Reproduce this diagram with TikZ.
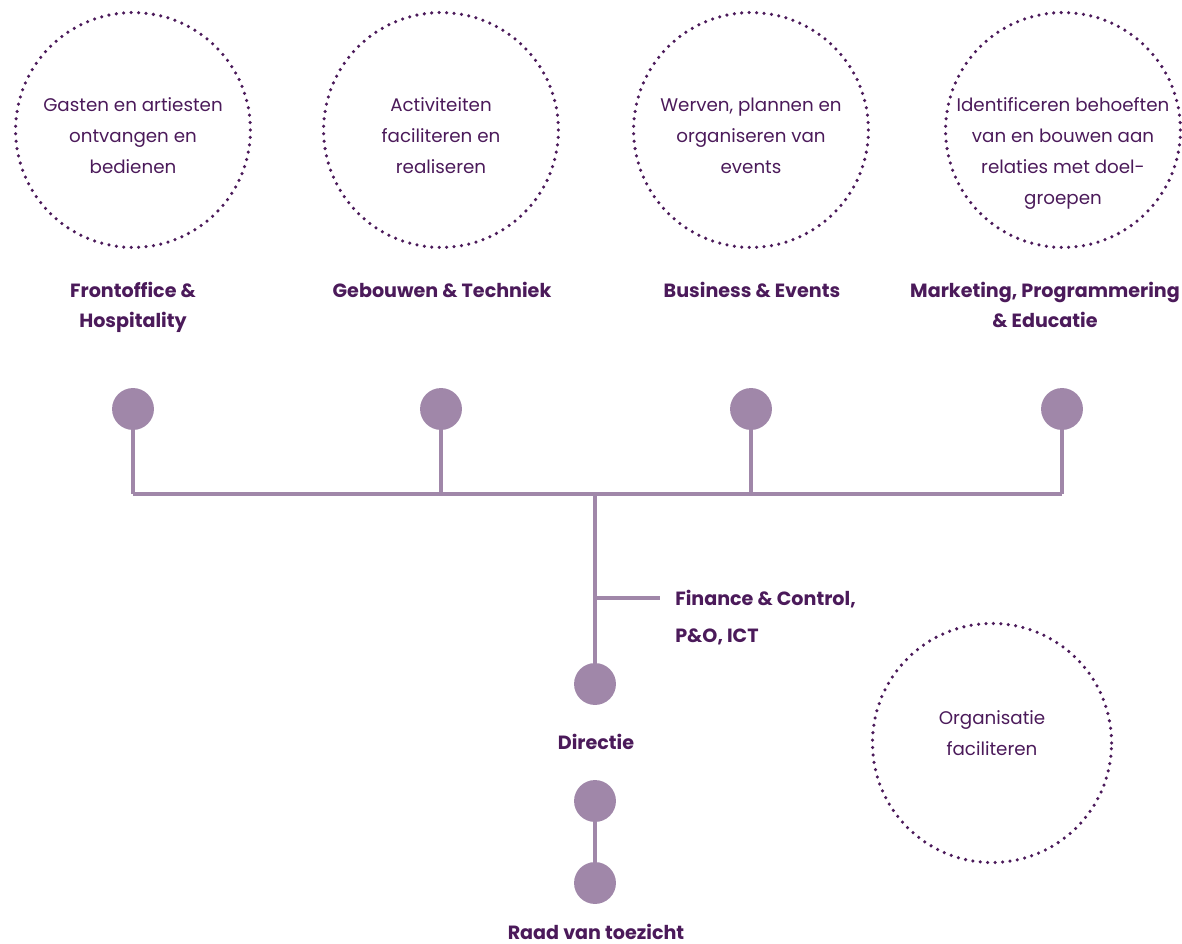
\documentclass[tikz,border=0pt]{standalone}
\usepackage{fontspec}
\setmainfont{Poppins}
\definecolor{plum}{HTML}{4B1A5A}
\definecolor{lilac}{HTML}{A087A9}
\tikzset{
  task/.style = {circle, minimum size = 167pt, draw = plum, line width = 2.5pt,
    dash pattern = on 0pt off 5.3pt, line cap = round},
  tasktext/.style = {anchor = north, align = center, text = plum,
    font = \fontsize{13}{22}\selectfont},
  dept/.style = {align = center, text = plum, font = \fontsize{13.6}{21.3}\selectfont\bfseries},
  knob/.style = {circle, fill = lilac, minimum size = 29.8pt, inner sep = 0pt},
  link/.style = {draw = lilac, line width = 2.2pt}
}
\begin{document}
\begin{tikzpicture}[x = 0.025cm, y = -0.025cm]
    \useasboundingbox (0, 0) rectangle (1182, 944);

    % dotted circles with tasks
    \node [task] (T1) at (133, 130) {};
    \node [task] (T2) at (441, 130) {};
    \node [task] (T3) at (751, 130) {};
    \node [task] (T4) at (1063, 130) {};
    \node [task, minimum size = 170pt] (T5) at (992, 743) {};

    \node [tasktext] at (133, 93) {Gasten en artiesten\\ontvangen en\\bedienen};
    \node [tasktext] at (441, 93) {Activiteiten\\faciliteren en\\realiseren};
    \node [tasktext] at (751, 93) {Werven, plannen en\\organiseren van\\events};
    \node [tasktext] at (1063, 93) {Identificeren behoeften\\van en bouwen aan\\relaties met doel-\\groepen};
    \node [tasktext] at (992, 706) {Organisatie\\faciliteren};

    % departments
    \node [dept, anchor = north] (D1) at (133, 277) {Frontoffice \&\\Hospitality};
    \node [dept, anchor = north] (D2) at (442, 277) {Gebouwen \& Techniek};
    \node [dept, anchor = north] (D3) at (752, 277) {Business \& Events};
    \node [dept, anchor = north] (D4) at (1045, 277) {Marketing, Programmering\\\& Educatie};
    \node [dept, anchor = north west, align = left, inner xsep = 0pt,
      font = \fontsize{13.6}{26.5}\selectfont\bfseries] (FC) at (675, 585) {Finance \& Control,\\P\&O, ICT};
    \node [dept] (DI) at (596, 742) {Directie};
    \node [dept] (RV) at (596, 932) {Raad van toezicht};

    % knobs
    \node [knob] (K1) at (133, 409) {};
    \node [knob] (K2) at (441, 409) {};
    \node [knob] (K3) at (751, 409) {};
    \node [knob] (K4) at (1062, 409) {};
    \node [knob] (K5) at (595, 684) {};
    \node [knob] (K6) at (595, 801) {};
    \node [knob] (K7) at (595, 883) {};

    \coordinate (J1) at (133, 494);
    \coordinate (J2) at (441, 494);
    \coordinate (J3) at (751, 494);
    \coordinate (J4) at (1062, 494);
    \coordinate (J0) at (595, 494);
    \coordinate (JF) at (595, 598);
    \coordinate (EF) at (660, 598);

    \draw [link] (K1) -- (J1);
    \draw [link] (K2) -- (J2);
    \draw [link] (K3) -- (J3);
    \draw [link] (K4) -- (J4);
    \draw [link] (J1) -- (J4);
    \draw [link] (J0) -- (K5);
    \draw [link] (JF) -- (EF);
    \draw [link] (K6) -- (K7);
  \end{tikzpicture}
\end{document}
